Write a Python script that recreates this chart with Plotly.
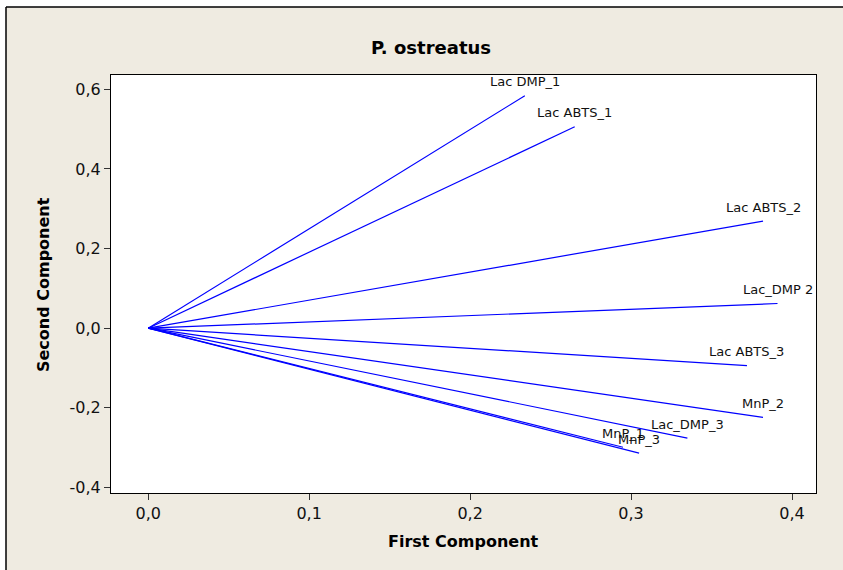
import plotly.graph_objects as go

# Loadings of the first two principal components
variables = ["Lac DMP_1", "Lac ABTS_1", "Lac ABTS_2", "Lac_DMP 2", "Lac ABTS_3",
             "MnP_2", "Lac_DMP_3", "MnP_3", "MnP_1"]
first_component = [0.234, 0.265, 0.382, 0.391, 0.372, 0.382, 0.335, 0.305, 0.295]
second_component = [0.584, 0.506, 0.269, 0.062, -0.094, -0.224, -0.276, -0.314, -0.299]

x_tick_values = [0.0, 0.1, 0.2, 0.3, 0.4]
x_tick_labels = ["0,0", "0,1", "0,2", "0,3", "0,4"]
y_tick_values = [-0.4, -0.2, 0.0, 0.2, 0.4, 0.6]
y_tick_labels = ["-0,4", "-0,2", "0,0", "0,2", "0,4", "0,6"]

FONT = "DejaVu Sans"
BEIGE = "#EFEBE1"
LINE_BLUE = "#0000FF"

W, H = 843, 570
ML, MR, MT, MB = 111, 27, 75, 77
pw = W - ML - MR
ph = H - MT - MB


def px_to_paper_x(px):
    return (px - ML) / pw


def px_to_paper_y(py):
    return (H - MB - py) / ph


fig = go.Figure()

# one vector per variable, from the origin to its loading
for name, x, y in zip(variables, first_component, second_component):
    fig.add_trace(go.Scatter(
        x=[0, x], y=[0, y], mode="lines",
        line=dict(color=LINE_BLUE, width=1.2),
        name=name, showlegend=False, hoverinfo="skip",
    ))

# variable names centred above the vector tips
for name, x, y in zip(variables, first_component, second_component):
    fig.add_annotation(
        x=x, y=y, xref="x", yref="y", text=name, showarrow=False,
        xanchor="center", yanchor="middle", yshift=14,
        font=dict(family=FONT, size=13, color="#111111"),
    )

# axis titles
fig.add_annotation(
    x=px_to_paper_x(463), y=px_to_paper_y(541), xref="paper", yref="paper",
    text="<b>First Component</b>", showarrow=False,
    xanchor="center", yanchor="middle",
    font=dict(family=FONT, size=16, color="#000000"),
)
fig.add_annotation(
    x=px_to_paper_x(43), y=px_to_paper_y(285), xref="paper", yref="paper",
    text="<b>Second Component</b>", showarrow=False, textangle=-90,
    xanchor="center", yanchor="middle",
    font=dict(family=FONT, size=16, color="#000000"),
)

# beige graph frame behind the white plotting region (open on right and bottom)
frame_x0, frame_x1 = px_to_paper_x(6), px_to_paper_x(W + 30)
frame_y0, frame_y1 = px_to_paper_y(H + 30), px_to_paper_y(7)
fig.add_shape(
    type="rect", xref="paper", yref="paper", layer="below",
    x0=frame_x0, x1=frame_x1, y0=frame_y0, y1=frame_y1,
    fillcolor=BEIGE, line=dict(width=0),
)
fig.add_shape(
    type="line", xref="paper", yref="paper", layer="below",
    x0=frame_x0, x1=frame_x1, y0=frame_y1, y1=frame_y1,
    line=dict(color="#000000", width=1.5),
)
fig.add_shape(
    type="line", xref="paper", yref="paper", layer="below",
    x0=frame_x0, x1=frame_x0, y0=frame_y0, y1=frame_y1,
    line=dict(color="#000000", width=1.5),
)
fig.add_shape(
    type="rect", xref="paper", yref="paper", layer="below",
    x0=0, x1=1, y0=0, y1=1,
    fillcolor="#FFFFFF", line=dict(width=0),
)

axis_common = dict(
    showgrid=False, zeroline=False,
    showline=True, mirror=True, linecolor="#000000", linewidth=1,
    ticks="outside", ticklen=6, tickwidth=1, tickcolor="#333333",
    tickfont=dict(family=FONT, size=16, color="#111111"),
)

fig.update_xaxes(
    range=[-0.0231, 0.4149],
    tickmode="array", tickvals=x_tick_values, ticktext=x_tick_labels,
    **axis_common,
)
fig.update_yaxes(
    range=[-0.414, 0.636],
    tickmode="array", tickvals=y_tick_values, ticktext=y_tick_labels,
    **axis_common,
)

fig.update_layout(
    width=W, height=H, autosize=False,
    margin=dict(l=ML, r=MR, t=MT, b=MB),
    paper_bgcolor="#FFFFFF", plot_bgcolor="#FFFFFF",
    title=dict(
        text="<b>P. ostreatus</b>",
        x=px_to_paper_x(431), xref="paper", xanchor="center",
        y=1 - 48 / H, yref="container", yanchor="middle",
        font=dict(family=FONT, size=18, color="#000000"),
    ),
    showlegend=False,
)

fig.write_html("out.html")
